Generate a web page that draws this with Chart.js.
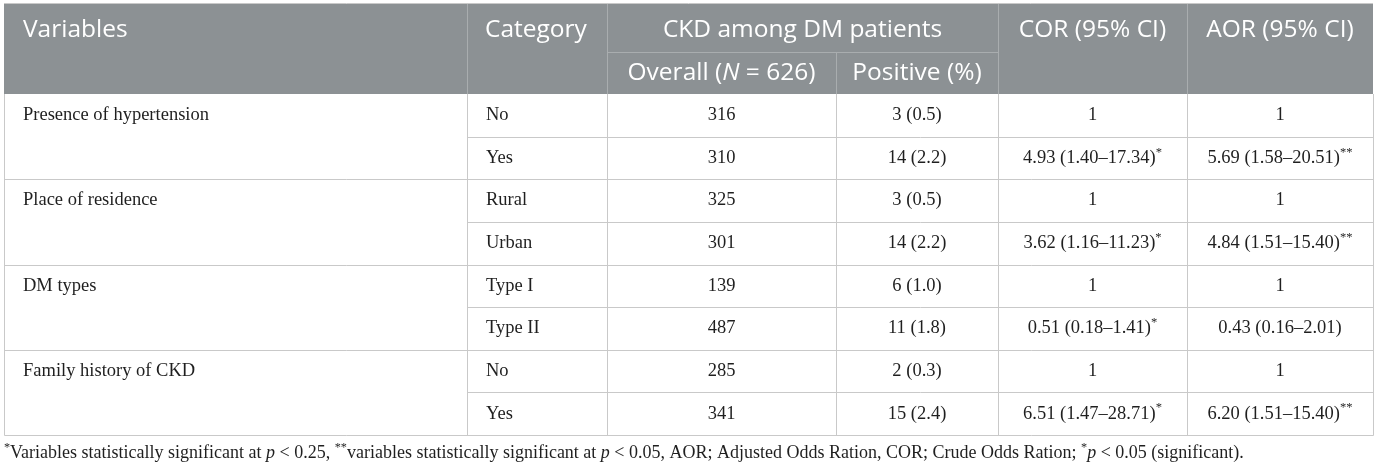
<!DOCTYPE html>
<html lang="en">
<head>
<meta charset="utf-8">
<title>CKD among DM patients</title>
<script src="https://cdn.jsdelivr.net/npm/chart.js@4.4.1/dist/chart.umd.min.js"></script>
<style>
    html, body { margin: 0; padding: 0; background: #fff; }
    #wrap { width: 1375px; height: 469px; }
</style>
</head>
<body>
<div id="wrap"><canvas id="ckd-table" width="1375" height="469"></canvas></div>
<script>
// ---- table content ----
const variables = ['Presence of hypertension', 'Place of residence', 'DM types', 'Family history of CKD'];
const groupSizes = [2, 2, 2, 2];
const categories = ['No', 'Yes', 'Rural', 'Urban', 'Type I', 'Type II', 'No', 'Yes'];
const overallCount = [316, 310, 325, 301, 139, 487, 285, 341];
const positiveCount = [3, 14, 3, 14, 6, 11, 2, 15];
const positivePct = [0.5, 2.2, 0.5, 2.2, 1.0, 1.8, 0.3, 2.4];
const corValues = ['1', '4.93 (1.40–17.34)*', '1', '3.62 (1.16–11.23)*', '1', '0.51 (0.18–1.41)*', '1', '6.51 (1.47–28.71)*'];
const aorValues = ['1', '5.69 (1.58–20.51)**', '1', '4.84 (1.51–15.40)**', '1', '0.43 (0.16–2.01)', '1', '6.20 (1.51–15.40)**'];

const headerTop = ['Variables', 'Category', 'CKD among DM patients', 'COR (95% CI)', 'AOR (95% CI)'];
const headerSub = [
    [{ t: 'Overall (' }, { t: 'N', italic: true }, { t: ' = 626)' }],
    [{ t: 'Positive (%)' }],
];
const footnote = [
    { t: '*', sup: true }, { t: 'Variables statistically significant at ' }, { t: 'p', italic: true },
    { t: ' < 0.25, ' }, { t: '**', sup: true }, { t: 'variables statistically significant at ' },
    { t: 'p', italic: true }, { t: ' < 0.05, AOR; Adjusted Odds Ration, COR; Crude Odds Ration; ' },
    { t: '*', sup: true }, { t: 'p', italic: true }, { t: ' < 0.05 (significant).' },
];

// ---- layout ----
const COL_EDGES = [1, 464, 604, 833, 995, 1184, 1370];   // x units (chart area starts at 3px)
const CELL_PAD = 19;
const HEADER_H = 90;
const SUB_H = 42;
const SERIF = '"Liberation Serif", "Times New Roman", serif';
const SANS = '"Open Sans", "Noto Sans", sans-serif';
const BODY_SIZE = 18.5;
const HEAD_SIZE = 24.5;
const FOOT_SIZE = 18;
const TEXT_COLOR = '#1f1f1f';
const LINE_COLOR = '#c9c9c9';
const HEAD_BG = '#8c9194';
const HEAD_LINE = '#a9adaf';

const rowLabels = categories.map((c, i) => `row${i}`);
const groupStarts = groupSizes.map((n, g) => groupSizes.slice(0, g).reduce((a, b) => a + b, 0));
const colCenter = k => (COL_EDGES[k] + COL_EDGES[k + 1]) / 2;

function splitStars(text) {
    const m = text.match(/^(.*?)(\*+)?$/);
    const segs = [{ t: m[1] }];
    if (m[2]) segs.push({ t: m[2], sup: true });
    return segs;
}

function drawRich(ctx, segments, x, y, align, size, family, color) {
    const fontFor = s => `${s.italic ? 'italic ' : ''}${s.sup ? size * 0.68 : size}px ${family}`;
    let total = 0;
    segments.forEach(s => { ctx.font = fontFor(s); total += ctx.measureText(s.t).width; });
    let cx = align === 'center' ? x - total / 2 : x;
    ctx.fillStyle = color;
    ctx.textAlign = 'left';
    ctx.textBaseline = 'middle';
    segments.forEach(s => {
        ctx.font = fontFor(s);
        ctx.fillText(s.t, cx, s.sup ? y - size * 0.3 : y);
        cx += ctx.measureText(s.t).width;
    });
}

function line(ctx, x1, y1, x2, y2) {
    ctx.beginPath();
    ctx.moveTo(x1, y1);
    ctx.lineTo(x2, y2);
    ctx.stroke();
}

const cellDataset = (texts, colIndex, align, rows) => ({
    data: texts.map((t, i) => ({
        x: align === 'left' ? COL_EDGES[colIndex] + CELL_PAD : colCenter(colIndex),
        y: rowLabels[rows ? rows[i] : i],
    })),
    cellText: texts,
    cellAlign: align,
    pointRadius: 0,
    pointHoverRadius: 0,
});

const tablePlugin = {
    id: 'tableCells',
    beforeDraw(chart) {
        const { ctx, chartArea, scales: { x } } = chart;
        ctx.save();
        ctx.fillStyle = '#fff';
        ctx.fillRect(0, 0, chart.width, chart.height);
        const left = x.getPixelForValue(COL_EDGES[0]);
        const right = x.getPixelForValue(COL_EDGES[COL_EDGES.length - 1]);
        const top = chartArea.top - HEADER_H;
        ctx.fillStyle = HEAD_BG;
        ctx.fillRect(left, top, right - left, HEADER_H);
        ctx.lineWidth = 1;
        ctx.strokeStyle = LINE_COLOR;
        line(ctx, left, Math.round(top) - 0.5, right, Math.round(top) - 0.5);

        // header grid
        ctx.strokeStyle = HEAD_LINE;
        [1, 2, 4, 5].forEach(k => {
            const px = Math.round(x.getPixelForValue(COL_EDGES[k])) + 0.5;
            line(ctx, px, top, px, chartArea.top);
        });
        const subY = Math.round(chartArea.top - SUB_H) + 0.5;
        line(ctx, x.getPixelForValue(COL_EDGES[2]), subY, x.getPixelForValue(COL_EDGES[4]), subY);
        const mid3 = Math.round(x.getPixelForValue(COL_EDGES[3])) + 0.5;
        line(ctx, mid3, subY, mid3, chartArea.top);

        // header text
        const topY = (top + subY) / 2 + 2;
        const subMid = (subY + chartArea.top) / 2;
        drawRich(ctx, [{ t: headerTop[0] }], x.getPixelForValue(COL_EDGES[0] + CELL_PAD), topY, 'left', HEAD_SIZE, SANS, '#fff');
        drawRich(ctx, [{ t: headerTop[1] }], x.getPixelForValue(COL_EDGES[1] + CELL_PAD - 1), topY, 'left', HEAD_SIZE, SANS, '#fff');
        drawRich(ctx, [{ t: headerTop[2] }], x.getPixelForValue((COL_EDGES[2] + COL_EDGES[4]) / 2), topY, 'center', HEAD_SIZE, SANS, '#fff');
        drawRich(ctx, [{ t: headerTop[3] }], x.getPixelForValue(colCenter(4)), topY, 'center', HEAD_SIZE, SANS, '#fff');
        drawRich(ctx, [{ t: headerTop[4] }], x.getPixelForValue(colCenter(5)), topY, 'center', HEAD_SIZE, SANS, '#fff');
        drawRich(ctx, headerSub[0], x.getPixelForValue(colCenter(2)), subMid, 'center', HEAD_SIZE, SANS, '#fff');
        drawRich(ctx, headerSub[1], x.getPixelForValue(colCenter(3)), subMid, 'center', HEAD_SIZE, SANS, '#fff');
        ctx.restore();
    },
    afterDatasetsDraw(chart) {
        const { ctx, chartArea, scales: { x, y } } = chart;
        ctx.save();
        ctx.lineWidth = 1;
        ctx.strokeStyle = LINE_COLOR;
        const left = Math.round(x.getPixelForValue(COL_EDGES[0])) + 0.5;
        const right = Math.round(x.getPixelForValue(COL_EDGES[COL_EDGES.length - 1])) + 0.5;
        const catLeft = Math.round(x.getPixelForValue(COL_EDGES[1])) + 0.5;
        const bottom = Math.round(y.getPixelForValue(categories.length - 0.5)) + 0.5;

        // row borders
        for (let k = 1; k <= categories.length; k++) {
            const py = Math.round(y.getPixelForValue(k - 0.5)) + 0.5;
            const full = k === categories.length || groupStarts.includes(k);
            line(ctx, full ? left : catLeft, py, right, py);
        }
        // column borders
        COL_EDGES.forEach(edge => {
            const px = Math.round(x.getPixelForValue(edge)) + 0.5;
            line(ctx, px, chartArea.top, px, bottom);
        });

        // cell text placed on each point element
        chart.data.datasets.forEach((ds, di) => {
            const meta = chart.getDatasetMeta(di);
            meta.data.forEach((pt, i) => {
                drawRich(ctx, splitStars(ds.cellText[i]), pt.x, pt.y, ds.cellAlign, BODY_SIZE, SERIF, TEXT_COLOR);
            });
        });

        // footnote
        drawRich(ctx, footnote, 4, bottom + 18, 'left', FOOT_SIZE, SERIF, TEXT_COLOR);
        ctx.restore();
    },
};

new Chart(document.getElementById('ckd-table').getContext('2d'), {
    type: 'scatter',
    data: {
        datasets: [
            cellDataset(variables, 0, 'left', groupStarts),
            cellDataset(categories, 1, 'left'),
            cellDataset(overallCount.map(String), 2, 'center'),
            cellDataset(positiveCount.map((n, i) => `${n} (${positivePct[i].toFixed(1)})`), 3, 'center'),
            cellDataset(corValues, 4, 'center'),
            cellDataset(aorValues, 5, 'center'),
        ],
    },
    options: {
        responsive: false,
        animation: false,
        events: [],
        layout: { padding: { left: 3, right: 2, top: 94, bottom: 34 } },
        plugins: { legend: { display: false }, tooltip: { enabled: false } },
        scales: {
            x: { type: 'linear', min: 0, max: 1370, display: false },
            y: { type: 'category', labels: rowLabels, offset: true, display: false },
        },
    },
    plugins: [tablePlugin],
});
</script>
</body>
</html>
